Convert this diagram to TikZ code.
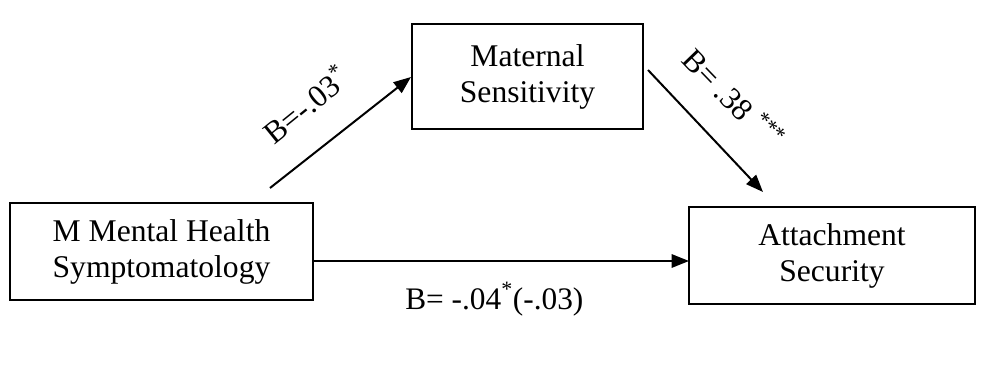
\documentclass[tikz,border=0pt]{standalone}
\usepackage{fontspec}
\setmainfont{Liberation Serif}
\usetikzlibrary{arrows.meta}
\begin{document}
\begin{tikzpicture}[x=0.75pt,y=-0.75pt,
  boxnode/.style={draw,line width=1.5pt,align=center,inner sep=0pt,
    font=\fontsize{23.7}{27}\selectfont},
  conn/.style={line width=1.5pt,-{Triangle[length=13pt,width=10pt]}},
  lab/.style={font=\fontsize{23.5}{27}\selectfont,inner sep=0pt}]
\useasboundingbox (0,0) rectangle (982,378);
\node[boxnode,minimum width=303*0.75pt,minimum height=97*0.75pt] (left) at (161.5,251.5) {M Mental Health\\Symptomatology};
\node[boxnode,minimum width=231*0.75pt,minimum height=105*0.75pt] (mat) at (527.5,76.5) {Maternal\\Sensitivity};
\node[boxnode,minimum width=286*0.75pt,minimum height=97*0.75pt] (att) at (832,255.5) {Attachment\\Security};
\coordinate (a1s) at (270,188);
\coordinate (a1e) at (411,77);
\coordinate (a2s) at (648,70);
\coordinate (a2e) at (763,192);
\coordinate (a3s) at (313,261);
\coordinate (a3e) at (689,261);
\draw[conn] (a1s) -- (a1e);
\draw[conn] (a2s) -- (a2e);
\draw[conn] (a3s) -- (a3e);
\node[lab,rotate=39] (l1) at (305,104) {B=-.03\textsuperscript{*}};
\node[lab,rotate=-46] (l2) at (734,98) {B= .38 \textsuperscript{***}};
\node[lab,anchor=base west] (l3) at (405,309) {B= -.04\textsuperscript{*}(-.03)};
\end{tikzpicture}
\end{document}
